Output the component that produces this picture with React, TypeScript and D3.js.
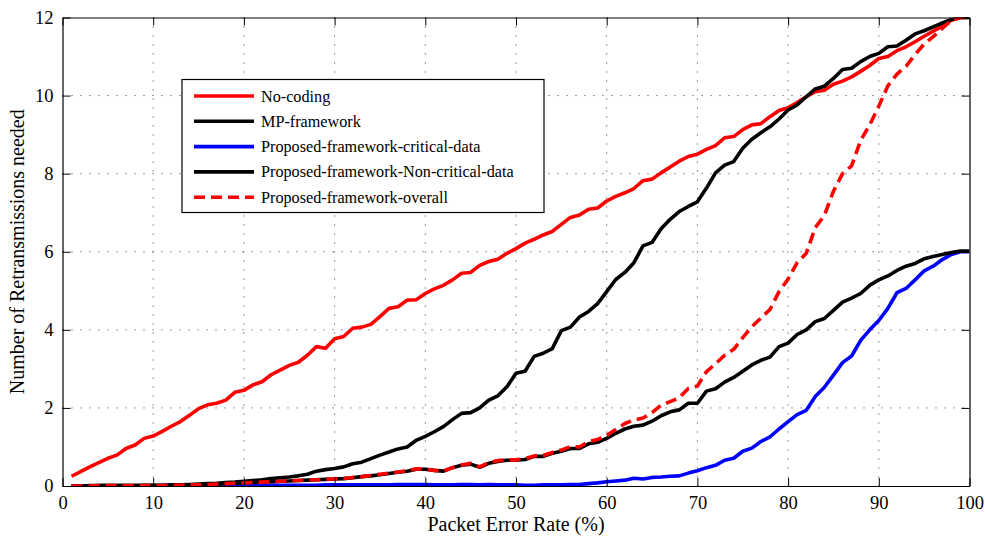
import * as d3 from "d3";
import { useEffect, useRef } from "react";

// packet error rate, 1..100 %
const PER: number[] = d3.range(1, 101);

const NO_CODING = [
  0.25, 0.37, 0.49, 0.6, 0.71, 0.79, 0.96, 1.05, 1.22, 1.28,
  1.4, 1.53, 1.65, 1.81, 1.98, 2.08, 2.12, 2.2, 2.4, 2.45,
  2.59, 2.67, 2.85, 2.97, 3.09, 3.17, 3.35, 3.57, 3.53, 3.77,
  3.83, 4.04, 4.07, 4.14, 4.34, 4.55, 4.59, 4.76, 4.77, 4.93,
  5.05, 5.14, 5.28, 5.45, 5.47, 5.65, 5.75, 5.81, 5.96, 6.08,
  6.22, 6.32, 6.43, 6.52, 6.7, 6.88, 6.94, 7.09, 7.12, 7.3,
  7.42, 7.51, 7.62, 7.82, 7.86, 8.02, 8.17, 8.32, 8.44, 8.5,
  8.62, 8.72, 8.92, 8.95, 9.13, 9.25, 9.28, 9.46, 9.62, 9.69,
  9.82, 9.97, 10.1, 10.14, 10.29, 10.37, 10.48, 10.62, 10.77, 10.95,
  11.0, 11.15, 11.25, 11.38, 11.52, 11.65, 11.78, 11.93, 12.0, 12.0,
];

const MP_FRAMEWORK = [
  0, 0, 0.01, 0.01, 0.01, 0.01, 0.01, 0.01, 0.02, 0.02,
  0.02, 0.03, 0.03, 0.04, 0.05, 0.06, 0.07, 0.09, 0.1, 0.12,
  0.14, 0.16, 0.19, 0.21, 0.23, 0.26, 0.3, 0.38, 0.42, 0.45,
  0.49, 0.57, 0.61, 0.7, 0.79, 0.87, 0.95, 1.0, 1.17, 1.27,
  1.39, 1.52, 1.7, 1.86, 1.88, 2.0, 2.2, 2.31, 2.54, 2.89,
  2.94, 3.32, 3.4, 3.52, 3.98, 4.07, 4.33, 4.47, 4.67, 4.98,
  5.29, 5.47, 5.72, 6.15, 6.24, 6.59, 6.83, 7.03, 7.16, 7.28,
  7.63, 8.02, 8.22, 8.31, 8.65, 8.88, 9.05, 9.2, 9.4, 9.63,
  9.76, 9.97, 10.17, 10.24, 10.44, 10.67, 10.7, 10.87, 11.0, 11.08,
  11.25, 11.27, 11.42, 11.58, 11.66, 11.76, 11.86, 11.95, 12.0, 12.0,
];

const CRITICAL = [
  0, 0, 0, 0, 0, 0, 0, 0, 0, 0,
  0.01, 0.01, 0.01, 0.01, 0.01, 0.01, 0.01, 0.01, 0.01, 0.01,
  0.02, 0.02, 0.02, 0.02, 0.02, 0.02, 0.02, 0.02, 0.03, 0.03,
  0.03, 0.03, 0.03, 0.03, 0.03, 0.03, 0.04, 0.04, 0.04, 0.04,
  0.03, 0.03, 0.03, 0.04, 0.04, 0.03, 0.04, 0.03, 0.03, 0.03,
  0.02, 0.02, 0.03, 0.03, 0.03, 0.04, 0.04, 0.06, 0.08, 0.11,
  0.13, 0.15, 0.2, 0.18, 0.22, 0.23, 0.25, 0.26, 0.33, 0.39,
  0.47, 0.53, 0.66, 0.71, 0.89, 0.97, 1.14, 1.26, 1.46, 1.65,
  1.83, 1.94, 2.29, 2.53, 2.84, 3.16, 3.33, 3.73, 4.0, 4.24,
  4.55, 4.95, 5.06, 5.28, 5.51, 5.63, 5.8, 5.93, 6.0, 6.0,
];

const NON_CRITICAL = [
  0, 0, 0, 0.01, 0.01, 0.01, 0.01, 0.01, 0.01, 0.01,
  0.01, 0.02, 0.02, 0.03, 0.03, 0.04, 0.05, 0.06, 0.07, 0.08,
  0.09, 0.1, 0.11, 0.12, 0.13, 0.14, 0.15, 0.16, 0.17, 0.18,
  0.19, 0.21, 0.24, 0.26, 0.29, 0.32, 0.35, 0.38, 0.43, 0.43,
  0.4, 0.38, 0.47, 0.53, 0.56, 0.48, 0.58, 0.63, 0.66, 0.66,
  0.68, 0.76, 0.76, 0.84, 0.89, 0.96, 0.96, 1.08, 1.12, 1.22,
  1.35, 1.46, 1.53, 1.56, 1.66, 1.8, 1.9, 1.95, 2.12, 2.12,
  2.43, 2.49, 2.66, 2.78, 2.94, 3.1, 3.22, 3.3, 3.57, 3.66,
  3.88, 4.0, 4.21, 4.29, 4.5, 4.71, 4.81, 4.93, 5.14, 5.28,
  5.38, 5.52, 5.63, 5.7, 5.82, 5.88, 5.93, 5.98, 6.02, 6.02,
];

const OVERALL = [
  0, 0, 0, 0.01, 0.01, 0.01, 0.01, 0.01, 0.01, 0.01,
  0.01, 0.02, 0.02, 0.03, 0.03, 0.04, 0.05, 0.06, 0.07, 0.08,
  0.09, 0.1, 0.11, 0.12, 0.13, 0.14, 0.15, 0.16, 0.17, 0.18,
  0.19, 0.22, 0.24, 0.27, 0.3, 0.33, 0.36, 0.39, 0.44, 0.43,
  0.4, 0.38, 0.47, 0.54, 0.58, 0.49, 0.6, 0.65, 0.67, 0.67,
  0.7, 0.77, 0.78, 0.86, 0.92, 1.01, 1.0, 1.14, 1.19, 1.3,
  1.45, 1.6, 1.69, 1.74, 1.88, 2.07, 2.16, 2.26, 2.5, 2.56,
  2.93, 3.13, 3.35, 3.5, 3.8, 4.08, 4.3, 4.52, 4.98, 5.3,
  5.72, 5.96, 6.62, 6.93, 7.55, 8.0, 8.2, 8.85, 9.25, 9.73,
  10.25, 10.55, 10.75, 11.05, 11.32, 11.51, 11.72, 11.93, 12.0, 12.0,
];

const X_TICKS = [0, 10, 20, 30, 40, 50, 60, 70, 80, 90, 100];
const Y_TICKS = [0, 2, 4, 6, 8, 10, 12];

const SERIES = [
  { name: "No-coding", values: NO_CODING, color: "#ff0000", dash: "none" },
  { name: "MP-framework", values: MP_FRAMEWORK, color: "#000000", dash: "none" },
  { name: "Proposed-framework-critical-data", values: CRITICAL, color: "#0000ff", dash: "none" },
  { name: "Proposed-framework-Non-critical-data", values: NON_CRITICAL, color: "#000000", dash: "none" },
  { name: "Proposed-framework-overall", values: OVERALL, color: "#ff0000", dash: "11 6" },
];

const FONT = "'Liberation Serif', 'Times New Roman', serif";

export default function App() {
  const ref = useRef<SVGSVGElement | null>(null);

  useEffect(() => {
    const svgEl = ref.current;
    if (!svgEl) return;
    const W = 985;
    const H = 539;
    const m = { left: 62.5, right: W - 969.5, top: 17.5, bottom: H - 486 };
    const iw = W - m.left - m.right;
    const ih = H - m.top - m.bottom;

    const svg = d3.select(svgEl);
    svg.selectAll("*").remove();

    const x = d3.scaleLinear().domain([0, 100]).range([0, iw]);
    const y = d3.scaleLinear().domain([0, 12]).range([ih, 0]);

    svg.append("rect").attr("width", W).attr("height", H).attr("fill", "#fff");

    svg
      .append("defs")
      .append("clipPath")
      .attr("id", "plot-clip")
      .append("rect")
      .attr("width", iw)
      .attr("height", ih);

    const g = svg.append("g").attr("transform", `translate(${m.left},${m.top})`);

    // dotted grid
    const grid = g.append("g").attr("stroke", "#333").attr("stroke-width", 1).attr("stroke-dasharray", "1 8");
    grid
      .selectAll("line.vx")
      .data(X_TICKS.slice(1, -1))
      .enter()
      .append("line")
      .attr("x1", (d) => x(d))
      .attr("x2", (d) => x(d))
      .attr("y1", 0)
      .attr("y2", ih);
    grid
      .selectAll("line.hy")
      .data(Y_TICKS.slice(1, -1))
      .enter()
      .append("line")
      .attr("x1", 0)
      .attr("x2", iw)
      .attr("y1", (d) => y(d))
      .attr("y2", (d) => y(d));

    // curves
    const line = d3
      .line<number>()
      .x((_, i) => x(PER[i]))
      .y((d) => y(d));
    const plot = g.append("g").attr("clip-path", "url(#plot-clip)");
    SERIES.forEach((s) => {
      plot
        .append("path")
        .attr("d", line(s.values))
        .attr("fill", "none")
        .attr("stroke", s.color)
        .attr("stroke-width", 3.6)
        .attr("stroke-linejoin", "round")
        .attr("stroke-dasharray", s.dash);
    });

    // axes box with inward ticks on every side
    const tickLen = 8;
    const axisBottom = d3.axisBottom(x).tickValues(X_TICKS).tickSizeInner(-tickLen).tickSizeOuter(0).tickPadding(10);
    const axisTop = d3.axisTop(x).tickValues(X_TICKS).tickSizeInner(-tickLen).tickSizeOuter(0).tickFormat(() => "");
    const axisLeft = d3.axisLeft(y).tickValues(Y_TICKS).tickSizeInner(-tickLen).tickSizeOuter(0).tickPadding(9);
    const axisRight = d3.axisRight(y).tickValues(Y_TICKS).tickSizeInner(-tickLen).tickSizeOuter(0).tickFormat(() => "");

    const styleAxis = (sel: d3.Selection<SVGGElement, unknown, null, undefined>) => {
      sel.selectAll("path.domain").attr("stroke", "#000").attr("stroke-width", 1.2);
      sel.selectAll(".tick line").attr("stroke", "#000").attr("stroke-width", 1);
      sel
        .selectAll(".tick text")
        .attr("fill", "#000")
        .style("font-family", FONT)
        .style("font-size", "18.5px");
    };

    styleAxis(g.append("g").attr("transform", `translate(0,${ih})`).call(axisBottom));
    styleAxis(g.append("g").call(axisTop));
    styleAxis(g.append("g").call(axisLeft));
    styleAxis(g.append("g").attr("transform", `translate(${iw},0)`).call(axisRight));

    // axis titles
    svg
      .append("text")
      .attr("x", m.left + iw / 2)
      .attr("y", 531)
      .attr("text-anchor", "middle")
      .style("font-family", FONT)
      .style("font-size", "20px")
      .text("Packet Error Rate (%)");

    svg
      .append("text")
      .attr("transform", `translate(24,${m.top + ih / 2}) rotate(-90)`)
      .attr("text-anchor", "middle")
      .style("font-family", FONT)
      .style("font-size", "20px")
      .text("Number of Retransmissions needed");

    // legend
    const lg = svg.append("g").attr("transform", "translate(182,79.5)");
    lg.append("rect")
      .attr("width", 362)
      .attr("height", 133)
      .attr("fill", "#fff")
      .attr("stroke", "#000")
      .attr("stroke-width", 1.2);
    SERIES.forEach((s, i) => {
      const ly = 16.5 + i * 25.3;
      lg.append("line")
        .attr("x1", 12)
        .attr("x2", 72)
        .attr("y1", ly)
        .attr("y2", ly)
        .attr("stroke", s.color)
        .attr("stroke-width", 3.6)
        .attr("stroke-dasharray", s.dash);
      lg.append("text")
        .attr("x", 79)
        .attr("y", ly + 5.5)
        .style("font-family", FONT)
        .style("font-size", "16.2px")
        .text(s.name);
    });
  }, []);

  return (
    <div style={{ position: "absolute", left: 0, top: 0 }}>
      <svg ref={ref} width={985} height={539} style={{ display: "block" }} />
    </div>
  );
}
